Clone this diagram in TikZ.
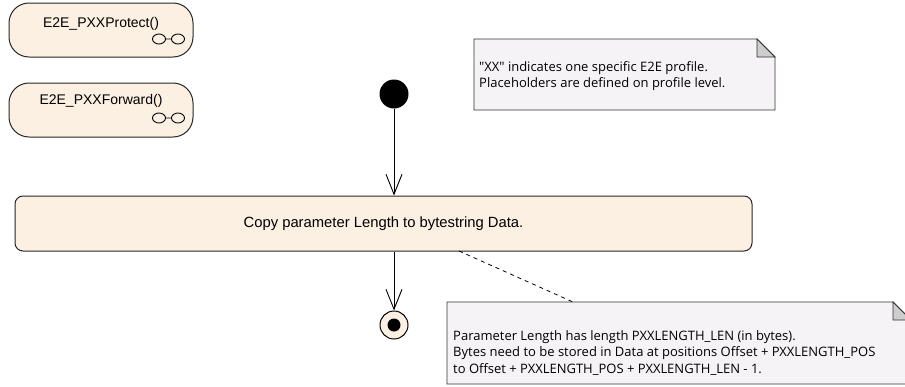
\documentclass[tikz,border=0pt]{standalone}
\usepackage{fontspec}
\setmainfont{Liberation Sans}
\newfontfamily\notefont{Open Sans}
\usetikzlibrary{arrows.meta}
\definecolor{actfill}{HTML}{FBF0E1}
\definecolor{notefill}{HTML}{F6F3F6}
\definecolor{foldfill}{HTML}{CDCDCD}
\tikzset{
  actbox/.style={draw=black!85, fill=actfill, line width=1pt, rounded corners=#1},
  notebox/.style={draw=black!80, fill=notefill, line width=0.8pt},
  flow/.style={draw, line width=0.9pt, -{Straight Barb[length=20pt,width=16pt,line width=0.9pt]}},
  anchorline/.style={draw, line width=0.8pt, dash pattern=on 4pt off 4pt},
  acttext/.style={font=\fontsize{14pt}{16pt}\selectfont},
  notetext/.style={anchor=north west, align=left, inner sep=0pt, font=\notefont\fontsize{13pt}{16.5pt}\selectfont},
}
\begin{document}
\begin{tikzpicture}[x=1pt,y=-1pt]
\useasboundingbox (0,0) rectangle (905,386);
% top-left call boxes
\path[actbox=20pt] (9,3) rectangle (193,57);
\node[acttext] (prot) at (101,24) {E2E\_PXXProtect()};
\draw[line width=0.9pt] (159,39) ellipse (6.5 and 5) (178,39) ellipse (6.5 and 5) (165.5,39) -- (171.5,39);
\path[actbox=20pt] (9,83) rectangle (193,137);
\node[acttext] (fwd) at (101,101) {E2E\_PXXForward()};
\draw[line width=0.9pt] (159,118) ellipse (6.5 and 5) (178,118) ellipse (6.5 and 5) (165.5,118) -- (171.5,118);
% note top
\path[notebox] (474,39) -- (757,39) -- (775,57) -- (775,110) -- (474,110) -- cycle;
\path[notebox, fill=foldfill] (757,39) -- (757,57) -- (775,57) -- cycle;
\node[notetext] (n1) at (479,61) {"XX" indicates one specific E2E profile.\\Placeholders are defined on profile level.};
% initial node
\node[circle, fill=black, minimum size=29pt, inner sep=0pt] (init) at (394,94) {};
% action
\node[actbox=8pt, minimum width=737pt, minimum height=55pt, inner sep=0pt, font=\fontsize{14.8pt}{16pt}\selectfont] (act) at (383.5,223.5) {Copy parameter Length to bytestring Data.};
% final node
\node[circle, draw=black, line width=1pt, fill=actfill, minimum size=28pt, inner sep=0pt] (fin) at (394,325) {};
\node[circle, fill=black, minimum size=13pt, inner sep=0pt] (fininner) at (394,325) {};
\draw[flow] (init) -- (act.north -| init);
\draw[flow] (act.south -| fin) -- (fin);
% note bottom
\path[notebox] (447,302) -- (893,302) -- (911,320) -- (911,384) -- (447,384) -- cycle;
\path[notebox, fill=foldfill] (893,302) -- (893,320) -- (911,320) -- cycle;
\coordinate (n2top) at (573,302);
\node[notetext] (n2) at (453,330) {Parameter Length has length PXXLENGTH\_LEN (in bytes).\\Bytes need to be stored in Data at positions Offset + PXXLENGTH\_POS\\to Offset + PXXLENGTH\_POS + PXXLENGTH\_LEN - 1.};
\coordinate (actanc) at (459,251);
\draw[anchorline] (actanc) -- (n2top);
\end{tikzpicture}
\end{document}
